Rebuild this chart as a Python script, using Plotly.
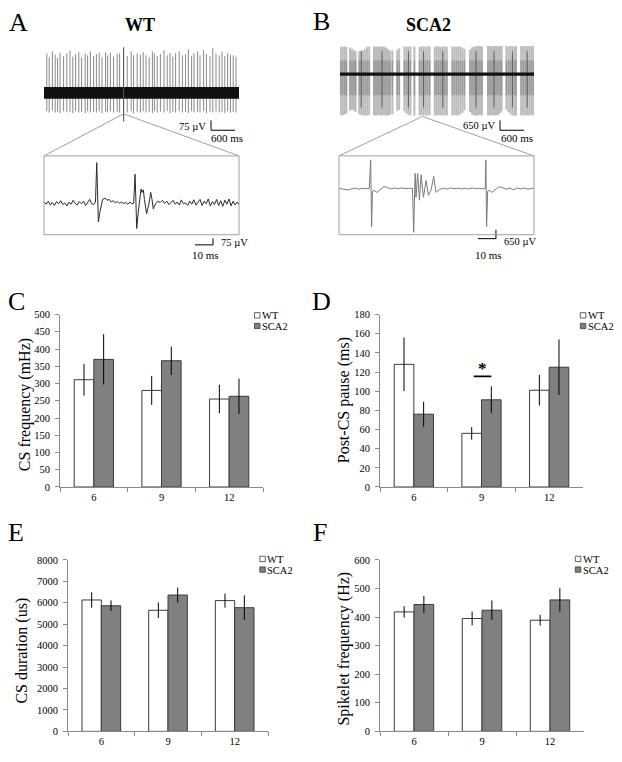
import plotly.graph_objects as go

# The page body has an 8px margin; the figure is sized/positioned to compensate.
PAGE_W, PAGE_H = 622, 762
OFF = 8
W, H = PAGE_W - OFF, PAGE_H - OFF
SERIF = "Liberation Serif, Times New Roman, Times, serif"
AXIS_GREY = "#8a8a8a"
BAR_EDGE = "#3a3a3a"
WT_FILL = "#ffffff"
SCA2_FILL = "#808080"

# ---------------- bar-chart data ----------------
AGES = ["6", "9", "12"]

CS_FREQ_WT = [311, 280, 255]
CS_FREQ_WT_ERR = [46, 42, 41]
CS_FREQ_SCA2 = [370, 366, 263]
CS_FREQ_SCA2_ERR = [73, 41, 51]

PAUSE_WT = [128, 56, 101]
PAUSE_WT_ERR = [28, 6.5, 16]
PAUSE_SCA2 = [76, 91, 125]
PAUSE_SCA2_ERR = [13, 14, 29]
PAUSE_SIG_Y = 115.5

DUR_WT = [6130, 5650, 6100]
DUR_WT_ERR = [360, 365, 330]
DUR_SCA2 = [5860, 6360, 5770]
DUR_SCA2_ERR = [250, 345, 575]

SPK_WT = [418, 395, 389]
SPK_WT_ERR = [20, 24, 19]
SPK_SCA2 = [444, 424, 460]
SPK_SCA2_ERR = [30, 34, 41]

# ---------------- recording data ----------------
# WT raw trace: spikes (time s, peak uV, trough uV); baseline noise band half-width (uV)
WT_SPIKES = [
    (0.07, 300, -140), (0.13, 270, -150), (0.21, 315, -135), (0.28, 290, -150), (0.34, 265, -145),
    (0.40, 305, -155), (0.49, 280, -140), (0.57, 300, -150), (0.65, 320, -145), (0.72, 275, -155),
    (0.79, 295, -140), (0.87, 310, -150), (0.94, 270, -145), (1.03, 300, -155), (1.09, 285, -140),
    (1.16, 315, -150), (1.24, 280, -145), (1.31, 295, -150), (1.38, 305, -140), (1.45, 270, -155),
    (1.54, 310, -145), (1.59, 285, -150), (1.66, 305, -140), (1.74, 275, -150), (1.83, 295, -145),
    (1.89, 300, -150), (1.99, 345, -217), (2.08, 280, -150), (2.18, 315, -140), (2.24, 285, -155),
    (2.33, 300, -145), (2.41, 290, -150), (2.48, 310, -140), (2.55, 285, -150), (2.63, 270, -145),
    (2.71, 315, -155), (2.76, 300, -140), (2.83, 280, -150), (2.91, 295, -145), (3.00, 325, -150),
    (3.08, 285, -140), (3.15, 305, -155), (3.22, 275, -145), (3.29, 300, -150), (3.38, 315, -140),
    (3.46, 285, -150), (3.54, 295, -145), (3.61, 330, -155), (3.69, 280, -140), (3.75, 300, -150),
    (3.84, 315, -145), (3.90, 285, -150), (3.99, 325, -140), (4.06, 295, -155), (4.15, 280, -145),
    (4.22, 340, -150), (4.30, 300, -140), (4.38, 285, -150), (4.45, 315, -145), (4.52, 280, -155),
    (4.59, 300, -140), (4.66, 290, -150), (4.73, 285, -145), (4.80, 275, -150),
]
WT_BAND_UV = 45
WT_ZOOM_SPIKE = (1.99, -160)

SCA2_SPIKES = [
    (0.02, 1820, -2700), (0.07, 1800, -2730), (0.12, 1820, -2650), (0.16, 1780, -2600),
    (0.25, 1750, -2400), (0.30, 1650, -2350), (0.35, 1560, -2400), (0.39, 1500, -2500),
    (0.48, 1500, -2650), (0.53, 1560, -2700), (0.58, 1560, -2730), (0.63, 1650, -2730),
    (0.68, 1800, -2730), (0.73, 1820, -2700), (0.85, 1820, -2730), (0.90, 1800, -2730),
    (0.95, 1820, -2700), (1.00, 1820, -2730), (1.05, 1800, -2730), (1.10, 1820, -2700),
    (1.15, 1750, -2730), (1.20, 1650, -2730), (1.25, 1560, -2700), (1.31, 1560, -2650),
    (1.43, 1600, -2400), (1.48, 1700, -2350), (1.61, 1820, -2450), (1.66, 1820, -2600),
    (1.71, 1800, -2700), (1.76, 1820, -2730), (1.86, 1820, -2730), (1.99, 1800, -2730),
    (2.04, 1820, -2700), (2.09, 1820, -2730), (2.14, 1800, -2730), (2.19, 1820, -2730),
    (2.24, 1820, -2700), (2.37, 1800, -2730), (2.42, 1820, -2730), (2.47, 1820, -2700),
    (2.52, 1800, -2730), (2.57, 1820, -2730), (2.62, 1820, -2700), (2.67, 1800, -2730),
    (2.81, 1820, -2730), (2.86, 1820, -2700), (2.91, 1800, -2730), (2.96, 1820, -2730),
    (3.01, 1820, -2650), (3.06, 1750, -2550), (3.11, 1650, -2400), (3.25, 1600, -2500),
    (3.30, 1750, -2650), (3.35, 1820, -2730), (3.40, 1820, -2730), (3.45, 1850, -2730),
    (3.50, 1850, -2700), (3.55, 1820, -2730), (3.70, 1850, -2730), (3.75, 1850, -2730),
    (3.80, 1820, -2700), (3.85, 1850, -2730), (3.90, 1850, -2730), (3.95, 1820, -2700),
    (4.00, 1850, -2600), (4.04, 1850, -2450), (4.16, 1850, -2350), (4.21, 1820, -2500),
    (4.26, 1850, -2650), (4.31, 1850, -2730), (4.36, 1820, -2730), (4.40, 1850, -2730),
    (4.53, 1850, -2730), (4.58, 1850, -2700), (4.63, 1820, -2730), (4.68, 1850, -2730),
    (4.73, 1850, -2730), (4.78, 1820, -2700), (4.83, 1850, -2730), (4.87, 1850, -2730),
]
SCA2_INNER_UV = (900, -1400)
SCA2_DARK_SPIKES = [0.53, 1.05, 1.71, 2.09, 2.57, 3.40, 3.85, 4.31, 4.68]
SCA2_BAND_UV = 105
SCA2_ZOOM_SPIKE = (2.06, -2795)

# insets: (time ms, uV)
INSET_WT = [
    (0, 10), (1.2, -15), (2.4, 20), (3.5, -25), (4.6, 5), (5.8, -30), (7.0, 15), (8.1, -10),
    (9.3, 25), (10.4, -20), (11.6, 0), (12.7, -35), (13.9, 10), (15.0, -15), (16.2, 30),
    (17.3, -5), (18.5, -25), (19.6, 15), (20.8, -10), (21.9, 20), (23.1, -30), (24.2, 5),
    (25.4, 40), (26.5, -10), (27.6, -20), (28.6, 10), (29.3, 464), (29.7, 150), (30.2, -220),
    (30.9, -120), (31.7, -20), (32.6, 40), (33.9, 55), (35.0, 30), (36.2, 40), (37.3, 10),
    (38.5, 25), (39.6, 0), (40.8, 15), (42.0, -5), (43.1, 10), (44.3, -10), (45.4, 5),
    (46.6, -15), (47.7, 10), (48.8, -10), (49.8, -5), (50.6, 330), (51.0, 60), (51.5, -295),
    (52.3, -120), (53.2, 60), (53.9, 160), (54.4, 120), (55.2, 150), (55.8, 40), (57.0, -125),
    (58.2, -20), (59.3, 120), (60.0, 40), (60.7, -68), (62.0, -10), (63.3, 20), (64.6, 5),
    (65.8, 30), (67.0, -5), (68.2, 20), (69.4, -20), (70.6, 5), (71.7, 30), (72.9, -15),
    (74.0, 10), (75.2, -25), (76.3, 35), (77.5, -10), (78.6, 0), (79.8, -30), (80.9, 20),
    (82.1, -15), (83.2, 35), (84.4, -25), (85.5, 10), (86.7, 40), (87.8, -30), (89.0, 20),
    (90.1, -10), (91.3, 45), (92.4, -35), (93.6, 15), (94.7, -20), (95.9, 40), (97.0, -30),
    (98.2, 25), (99.3, -40), (100.5, 30), (101.6, -15), (102.8, 45), (103.9, -35), (105.1, 20),
    (106.2, -25), (107.4, 10), (108.3, -20),
]
INSET_SCA2 = [
    (0, 0), (3, -40), (5, -120), (7, -30), (9, 20), (11, -60), (13, 10), (15, -20), (16.8, 0),
    (17.6, 2090), (18.1, -2810), (18.6, -200), (19.5, -150), (21, -290), (23, -100), (25, 140),
    (27, 60), (29, -40), (31, 30), (33, -30), (35, 40), (37, -20), (39, 10), (40.8, 0),
    (41.5, -3220), (42.3, 1100), (42.8, -650), (43.7, 1100), (44.7, -860), (45.6, 1000),
    (46.9, -650), (48.4, 580), (49.7, -500), (51.2, -100), (52.6, 870), (53.9, -290), (55.8, -80),
    (58, 30), (60, -60), (62, 40), (64, -30), (66, 20), (68, -50), (70, 10), (72, -40), (74, 30),
    (76, -20), (78, 10), (80, -30), (81.3, 0), (81.6, 2090), (82.0, -2810), (82.6, -200),
    (83.5, -150), (85, -290), (87, -80), (89, 130), (91, 40), (93, -60), (95, 30), (97, -100),
    (99, 20), (101, -40), (103, 30), (105, -60), (107, 10), (108.3, 0),
]

RAW_BAR_MS = 600
WT_RAW_BAR_UV = 75
SCA2_RAW_BAR_UV = 650
INSET_BAR_MS = 10
WT_INSET_BAR_UV = 75
SCA2_INSET_BAR_UV = 650


# ---------------- helpers (page pixels -> paper) ----------------
def px2x(p):
    return (p - OFF) / W


def px2y(p):
    return 1 - (p - OFF) / H


def xdom(a, b):
    return [px2x(a), px2x(b)]


def ydom(top, bot):
    return [px2y(bot), px2y(top)]


def axname(i, letter):
    return letter if i == 1 else f"{letter}{i}"


def laykey(i, letter):
    return f"{letter}axis" if i == 1 else f"{letter}axis{i}"


fig = go.Figure()
lay = {}
annotations = []
shapes = []

# ---------------- bar panels ----------------
PANELS = [
    dict(i=1, wt=CS_FREQ_WT, wte=CS_FREQ_WT_ERR, sc=CS_FREQ_SCA2, sce=CS_FREQ_SCA2_ERR,
         yr=[0, 500], dt=50, title="CS frequency (mHz)", box=(60, 263, 314, 489),
         tpos=(25, 406), leg=(254.5, 314.8), letter="C", lpos=(16, 301)),
    dict(i=2, wt=PAUSE_WT, wte=PAUSE_WT_ERR, sc=PAUSE_SCA2, sce=PAUSE_SCA2_ERR,
         yr=[0, 180], dt=20, title="Post-CS pause (ms)", box=(380, 583, 314, 489),
         tpos=(344, 401), leg=(580.3, 314.8), letter="D", lpos=(321, 301)),
    dict(i=3, wt=DUR_WT, wte=DUR_WT_ERR, sc=DUR_SCA2, sce=DUR_SCA2_ERR,
         yr=[0, 8000], dt=1000, title="CS duration (us)", box=(68, 268, 563, 737),
         tpos=(22, 655), leg=(259.8, 562.0), letter="E", lpos=(16, 535)),
    dict(i=4, wt=SPK_WT, wte=SPK_WT_ERR, sc=SPK_SCA2, sce=SPK_SCA2_ERR,
         yr=[0, 600], dt=100, title="Spikelet frequency (Hz)", box=(380, 584, 563, 737),
         tpos=(344, 653), leg=(575.3, 562.0), letter="F", lpos=(320, 535)),
]

for p in PANELS:
    i = p["i"]
    xa, ya = axname(i, "x"), axname(i, "y")
    fig.add_trace(go.Bar(
        x=AGES, y=p["wt"], name="WT", xaxis=xa, yaxis=ya,
        marker=dict(color=WT_FILL, line=dict(color=BAR_EDGE, width=1)),
        error_y=dict(type="data", array=p["wte"], color="black", thickness=1, width=0)))
    fig.add_trace(go.Bar(
        x=AGES, y=p["sc"], name="SCA2", xaxis=xa, yaxis=ya,
        marker=dict(color=SCA2_FILL, line=dict(color=BAR_EDGE, width=1)),
        error_y=dict(type="data", array=p["sce"], color="black", thickness=1, width=0)))
    x0, x1, yt, yb = p["box"]
    lay[laykey(i, "x")] = dict(
        domain=xdom(x0, x1), anchor=ya, type="category", showline=True,
        linecolor=AXIS_GREY, linewidth=1, ticks="outside", tickson="boundaries",
        ticklen=4, tickcolor=AXIS_GREY, tickfont=dict(size=10.5, color="black", family=SERIF),
        showgrid=False, zeroline=False, fixedrange=True)
    lay[laykey(i, "y")] = dict(
        domain=ydom(yt, yb), anchor=xa, range=p["yr"], dtick=p["dt"], tick0=0,
        showline=True, linecolor=AXIS_GREY, linewidth=1, ticks="outside", ticklen=4,
        tickcolor=AXIS_GREY, tickfont=dict(size=10.5, color="black", family=SERIF),
        showgrid=False, zeroline=False, fixedrange=True, ticklabelstandoff=3)
    tx, ty = p["tpos"]
    annotations.append(dict(
        text=p["title"], x=px2x(tx), y=px2y(ty), xref="paper", yref="paper",
        textangle=-90, showarrow=False, xanchor="center", yanchor="middle",
        font=dict(size=16, family=SERIF, color="black")))
    lx, ly = p["leg"]
    for k, (lab, fill) in enumerate([("WT", WT_FILL), ("SCA2", SCA2_FILL)]):
        cy = ly + 10.8 * k
        shapes.append(dict(type="rect", xref="paper", yref="paper",
                           x0=px2x(lx), x1=px2x(lx + 5.5),
                           y0=px2y(cy + 2.7), y1=px2y(cy - 2.7),
                           fillcolor=fill, line=dict(color=BAR_EDGE, width=0.8)))
        annotations.append(dict(text=lab, x=px2x(lx + 6.5), y=px2y(cy),
                                xref="paper", yref="paper", showarrow=False,
                                xanchor="left", yanchor="middle", height=10, borderpad=0,
                                font=dict(size=10.5, family=SERIF, color="black")))
    lpx, lpy = p["lpos"]
    annotations.append(dict(text=p["letter"], x=px2x(lpx), y=px2y(lpy), xref="paper",
                            yref="paper", showarrow=False, xanchor="center",
                            yanchor="middle", font=dict(size=26, family=SERIF, color="black")))

# significance marker in D
shapes.append(dict(type="line", xref="x2", yref="y2", x0=0.885, x1=1.145,
                   y0=PAUSE_SIG_Y, y1=PAUSE_SIG_Y, line=dict(color="black", width=1.6)))
annotations.append(dict(text="<b>*</b>", xref="x2", yref="y2", x=1.02, y=PAUSE_SIG_Y,
                        yanchor="bottom", xanchor="center", showarrow=False, yshift=-4,
                        font=dict(size=17, family=SERIF, color="black")))


# ---------------- recording panels ----------------
def hidden(**kw):
    d = dict(visible=False, showgrid=False, zeroline=False, fixedrange=True)
    d.update(kw)
    return d


def spike_xy(spikes, inner=None):
    xs, ys = [], []
    for t, up, dn in spikes:
        if inner is not None:
            up, dn = inner
        xs += [t, t, None]
        ys += [dn, up, None]
    return xs, ys


PX_PER_S = 40.0
MS_PER_PX = 0.5556
WT_RAW = dict(i=5, xpx=(44, 239), ypx=(40, 130), base=89, uvpx=7.5)
SC_RAW = dict(i=6, xpx=(340, 534), ypx=(38, 130), base=70, uvpx=65.0)
WT_INS = dict(i=7, xpx=(43, 240), ypx=(152, 258), base=200.7, uvpx=75 / 6.6, box=(153, 233))
SC_INS = dict(i=8, xpx=(338, 535), ypx=(152, 258), base=186, uvpx=650 / 9.0, box=(153, 233))

for a in (WT_RAW, SC_RAW):
    i = a["i"]
    xr = [0, (a["xpx"][1] - a["xpx"][0]) / PX_PER_S]
    yr = [-(a["ypx"][1] - a["base"]) * a["uvpx"], (a["base"] - a["ypx"][0]) * a["uvpx"]]
    a["xr"], a["yr"] = xr, yr
    lay[laykey(i, "x")] = hidden(domain=xdom(*a["xpx"]), range=xr, anchor=axname(i, "y"))
    lay[laykey(i, "y")] = hidden(domain=ydom(*a["ypx"]), range=yr, anchor=axname(i, "x"))

for a in (WT_INS, SC_INS):
    i = a["i"]
    xr = [-MS_PER_PX, (a["xpx"][1] - a["xpx"][0] - 1) * MS_PER_PX]
    yr = [-(a["ypx"][1] - a["base"]) * a["uvpx"], (a["base"] - a["ypx"][0]) * a["uvpx"]]
    a["xr"], a["yr"] = xr, yr
    a["boxv"] = (-(a["box"][1] - a["base"]) * a["uvpx"], (a["base"] - a["box"][0]) * a["uvpx"])
    a["boxt"] = (0, (a["xpx"][1] - a["xpx"][0] - 2) * MS_PER_PX)
    lay[laykey(i, "x")] = hidden(domain=xdom(*a["xpx"]), range=xr, anchor=axname(i, "y"))
    lay[laykey(i, "y")] = hidden(domain=ydom(*a["ypx"]), range=yr, anchor=axname(i, "x"))


def to_paper(a, t, v):
    i = a["i"]
    xd = lay[laykey(i, "x")]["domain"]
    yd = lay[laykey(i, "y")]["domain"]
    xr, yr = a["xr"], a["yr"]
    px = xd[0] + (t - xr[0]) / (xr[1] - xr[0]) * (xd[1] - xd[0])
    py = yd[0] + (v - yr[0]) / (yr[1] - yr[0]) * (yd[1] - yd[0])
    return px, py


def line_trace(a, xs, ys, color, width):
    fig.add_trace(go.Scatter(x=xs, y=ys, mode="lines", line=dict(color=color, width=width),
                             xaxis=axname(a["i"], "x"), yaxis=axname(a["i"], "y"),
                             hoverinfo="skip", connectgaps=False))


def band_trace(a, half, color):
    t1 = a["xr"][1]
    fig.add_trace(go.Scatter(x=[0, t1, t1, 0, 0], y=[-half, -half, half, half, -half],
                             mode="lines", fill="toself", fillcolor=color,
                             line=dict(color=color, width=0),
                             xaxis=axname(a["i"], "x"), yaxis=axname(a["i"], "y"),
                             hoverinfo="skip"))


# WT raw
xs, ys = spike_xy(WT_SPIKES)
line_trace(WT_RAW, xs, ys, "#7a7a7a", 0.9)
band_trace(WT_RAW, WT_BAND_UV, "#111111")
xs, ys = spike_xy([WT_SPIKES[26]])
line_trace(WT_RAW, xs, ys, "#555555", 1)

# SCA2 raw
xs, ys = spike_xy(SCA2_SPIKES)
line_trace(SC_RAW, xs, ys, "#bcbcbc", 2.0)
xs, ys = spike_xy(SCA2_SPIKES, inner=SCA2_INNER_UV)
line_trace(SC_RAW, xs, ys, "#999999", 1.5)
xs, ys = spike_xy([(t, 1500, -2200) for t in SCA2_DARK_SPIKES])
line_trace(SC_RAW, xs, ys, "#5a5a5a", 1)
band_trace(SC_RAW, SCA2_BAND_UV, "#111111")

# insets
line_trace(WT_INS, [p[0] for p in INSET_WT], [p[1] for p in INSET_WT], "#2a2a2a", 1)
line_trace(SC_INS, [p[0] for p in INSET_SCA2], [p[1] for p in INSET_SCA2], "#7a7a7a", 1)

for a in (WT_INS, SC_INS):
    i = a["i"]
    shapes.append(dict(type="rect", xref=axname(i, "x"), yref=axname(i, "y"),
                       x0=a["boxt"][0], x1=a["boxt"][1], y0=a["boxv"][0], y1=a["boxv"][1],
                       line=dict(color="#a0a0a0", width=1), fillcolor="rgba(0,0,0,0)"))

# zoom connector lines
for raw, ins, src in ((WT_RAW, WT_INS, WT_ZOOM_SPIKE), (SC_RAW, SC_INS, SCA2_ZOOM_SPIKE)):
    sx, sy = to_paper(raw, *src)
    for tcorner in ins["boxt"]:
        ex, ey = to_paper(ins, tcorner, ins["boxv"][1])
        shapes.append(dict(type="line", xref="paper", yref="paper", x0=sx, y0=sy, x1=ex, y1=ey,
                           line=dict(color="#a0a0a0", width=1)))


def inset_scale_bar(a, t0, v0, uv, uvtext, ms_center_t, uv_y, ms_y):
    t1 = t0 + INSET_BAR_MS
    line_trace(a, [t0, t1, t1], [v0, v0, v0 + uv], "black", 1)
    annotations.append(dict(text=uvtext, x=t1, y=uv_y, xref=axname(a["i"], "x"),
                            yref=axname(a["i"], "y"), xanchor="left", yanchor="middle",
                            xshift=6, showarrow=False,
                            font=dict(size=10.5, family=SERIF, color="black")))
    annotations.append(dict(text="10 ms", x=ms_center_t, y=ms_y, xref=axname(a["i"], "x"),
                            yref=axname(a["i"], "y"), xanchor="center", yanchor="middle",
                            showarrow=False, font=dict(size=11, family=SERIF, color="black")))


def raw_scale_bar(a, tbar, vbot, uv, uvtext, ms_center_t, uv_y):
    t1 = tbar + RAW_BAR_MS / 1000.0
    line_trace(a, [tbar, tbar, t1], [vbot + uv, vbot, vbot], "black", 1)
    annotations.append(dict(text=uvtext, x=tbar, y=uv_y, xref=axname(a["i"], "x"),
                            yref=axname(a["i"], "y"), xanchor="right", yanchor="middle",
                            xshift=-3, showarrow=False,
                            font=dict(size=10.5, family=SERIF, color="black")))
    annotations.append(dict(text="600 ms", x=ms_center_t, y=vbot, xref=axname(a["i"], "x"),
                            yref=axname(a["i"], "y"), xanchor="center", yanchor="top",
                            showarrow=False, font=dict(size=11, family=SERIF, color="black")))


raw_scale_bar(WT_RAW, 4.175, -285, WT_RAW_BAR_UV, "75 µV", 4.575, -255)
raw_scale_bar(SC_RAW, 4.0, -3705, SCA2_RAW_BAR_UV, "650 µV", 4.425, -3380)

inset_scale_bar(WT_INS, 83.9, -484, WT_INSET_BAR_UV, "75 µV", 89.7, -458, -605)
inset_scale_bar(SC_INS, 77.2, -3683, SCA2_INSET_BAR_UV, "650 µV", 83.1, -3900, -4910)

# titles and panel letters for top row
for text, (x, y), size, bold in (("A", (18, 17.5), 26, False), ("B", (321, 17), 26, False),
                                 ("WT", (140, 20), 18, True), ("SCA2", (428, 20), 18, True)):
    annotations.append(dict(text=f"<b>{text}</b>" if bold else text, x=px2x(x), y=px2y(y),
                            xref="paper", yref="paper", showarrow=False,
                            xanchor="center", yanchor="middle",
                            font=dict(size=size, family=SERIF, color="black")))

fig.update_layout(
    width=W, height=H, margin=dict(l=0, r=0, t=0, b=0),
    paper_bgcolor="white", plot_bgcolor="rgba(0,0,0,0)",
    showlegend=False, barmode="group", bargap=0.42, bargroupgap=0,
    font=dict(family=SERIF, color="black"),
    annotations=annotations, shapes=shapes, **lay)

fig.write_html("out.html")
